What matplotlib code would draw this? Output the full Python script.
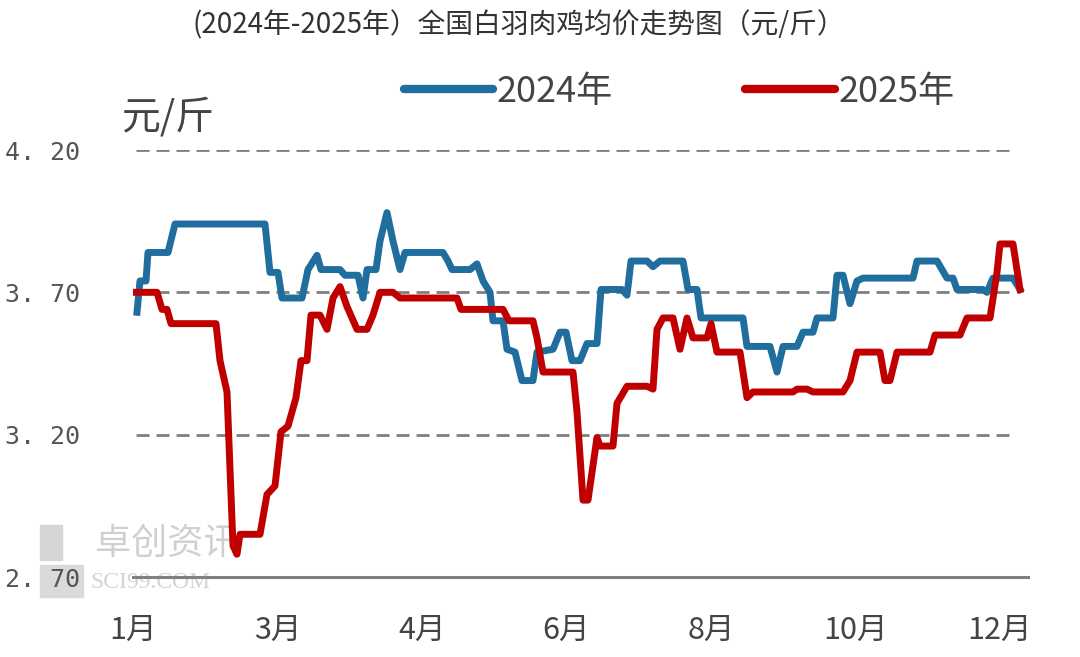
import numpy as np
import matplotlib
matplotlib.use('Agg')
import matplotlib.pyplot as plt
from matplotlib.lines import Line2D
from matplotlib.patches import Rectangle

plt.rcParams['font.family'] = ['Noto Sans CJK SC', 'DejaVu Sans']

# positions along the year (one month label every 144.5 units)
month_labels = ['1月', '3月', '4月', '6月', '8月', '10月', '12月']
month_pos = np.arange(len(month_labels)) * 144.5

pos_2024 = [4, 7, 13, 15, 35, 42, 132, 137, 145, 149,
            169, 175, 184, 188, 207, 212, 225, 230, 234, 243,
            247, 254, 260, 267, 272, 310, 315, 319, 337, 344,
            350, 357, 360, 370, 374, 382, 389, 400, 404, 420,
            427, 433, 439, 447, 454, 464, 468, 489, 494, 498,
            514, 520, 527, 550, 555, 564, 568, 610, 614, 637,
            644, 650, 664, 670, 680, 684, 700, 704, 710, 717,
            724, 730, 780, 784, 804, 814, 820, 824, 850, 854,
            860, 880, 887]
price_2024 = [3.63, 3.74, 3.74, 3.84, 3.84, 3.94, 3.94, 3.77, 3.77, 3.68,
              3.68, 3.78, 3.83, 3.78, 3.78, 3.76, 3.76, 3.68, 3.78, 3.78,
              3.88, 3.98, 3.88, 3.78, 3.84, 3.84, 3.81, 3.78, 3.78, 3.80,
              3.74, 3.70, 3.60, 3.60, 3.50, 3.49, 3.39, 3.39, 3.49, 3.50,
              3.56, 3.56, 3.46, 3.46, 3.52, 3.52, 3.71, 3.71, 3.69, 3.81,
              3.81, 3.79, 3.81, 3.81, 3.71, 3.71, 3.61, 3.61, 3.51, 3.51,
              3.42, 3.51, 3.51, 3.56, 3.56, 3.61, 3.61, 3.76, 3.76, 3.66,
              3.74, 3.75, 3.75, 3.81, 3.81, 3.75, 3.75, 3.71, 3.71, 3.70,
              3.75, 3.75, 3.71]

pos_2025 = [0, 24, 29, 34, 38, 83, 87, 94, 100, 104,
            107, 127, 134, 142, 148, 155, 163, 168, 174, 178,
            187, 194, 200, 207, 214, 224, 234, 240, 247, 260,
            267, 324, 328, 370, 376, 400, 404, 410, 440, 444,
            450, 455, 464, 467, 480, 484, 494, 514, 520, 524,
            530, 540, 547, 554, 560, 574, 578, 584, 607, 614,
            620, 660, 664, 674, 680, 710, 717, 724, 747, 752,
            757, 764, 797, 802, 827, 834, 857, 864, 867, 880,
            887]
price_2025 = [3.70, 3.70, 3.64, 3.64, 3.59, 3.59, 3.46, 3.35, 2.81, 2.78,
              2.85, 2.85, 2.99, 3.02, 3.21, 3.23, 3.33, 3.46, 3.46, 3.62,
              3.62, 3.57, 3.68, 3.72, 3.65, 3.57, 3.57, 3.62, 3.70, 3.70,
              3.68, 3.68, 3.64, 3.64, 3.60, 3.60, 3.54, 3.42, 3.42, 3.28,
              2.97, 2.97, 3.19, 3.16, 3.16, 3.31, 3.37, 3.37, 3.36, 3.57,
              3.61, 3.61, 3.50, 3.61, 3.54, 3.54, 3.59, 3.49, 3.49, 3.33,
              3.35, 3.35, 3.36, 3.36, 3.35, 3.35, 3.39, 3.49, 3.49, 3.39,
              3.39, 3.49, 3.49, 3.55, 3.55, 3.61, 3.61, 3.77, 3.87, 3.87,
              3.71]

y_ticks = [2.70, 3.20, 3.70, 4.20]
y_labels = ['2. 70', '3. 20', '3. 70', '4. 20']

blue = '#1f6e9e'
red = '#c00000'
grid_col = '#808080'

fig = plt.figure(figsize=(10.8, 6.57), dpi=100)

# watermark (behind everything)
fig.patches.append(Rectangle((40 / 1080, 1 - 560 / 657), 22 / 1080, 35 / 657,
                             transform=fig.transFigure, color='#d6d6d6', zorder=-2))
fig.patches.append(Rectangle((40 / 1080, 1 - 597 / 657), 43 / 1080, 32 / 657,
                             transform=fig.transFigure, color='#dadada', zorder=-2))
fig.text(95 / 1080, 1 - 544 / 657, '卓创资讯', fontsize=26, color='#d0d0d0',
         ha='left', va='center', zorder=-1)
fig.text(90 / 1080, 1 - 582 / 657, 'SCI99.COM', fontsize=17, color='#d4d4d4',
         ha='left', va='center', family='Liberation Serif', zorder=-1)

ax = fig.add_axes([133 / 1080, 1 - 577 / 657, (1028 - 133) / 1080, (577 - 150) / 657])
ax.patch.set_alpha(0)

for v in y_ticks[1:]:
    ax.axhline(v, xmin=0.003, xmax=0.985, color=grid_col, lw=2.0,
               linestyle=(0, (4.7, 2.5)), zorder=1)

ax.plot(pos_2024, price_2024, color=blue, lw=5, zorder=3)
ax.plot(pos_2025, price_2025, color=red, lw=5, zorder=4)

ax.set_xlim(0, 895)
ax.set_ylim(2.70, 4.20)
for s in ['top', 'right', 'left']:
    ax.spines[s].set_visible(False)
ax.spines['bottom'].set_color(grid_col)
ax.spines['bottom'].set_linewidth(2.2)

ax.set_xticks(month_pos)
ax.set_xticklabels(month_labels, fontsize=22, color='#444444')
ax.set_yticks(y_ticks)
ax.set_yticklabels(y_labels, fontsize=18, color='#555555', family='DejaVu Sans Mono')
ax.tick_params(axis='x', length=0, pad=27)
ax.tick_params(axis='y', length=0, pad=92)
for lab in ax.get_yticklabels():
    lab.set_horizontalalignment('left')

fig.text(519 / 1080, 1 - 25 / 657, '(2024年-2025年）全国白羽肉鸡均价走势图（元/斤）',
         ha='center', va='center', fontsize=20, color='#333333')
fig.text(121 / 1080, 1 - 117 / 657, '元/斤', ha='left', va='center',
         fontsize=28, color='#444444')

handles = [Line2D([], [], color=blue, lw=6, solid_capstyle='round'),
           Line2D([], [], color=red, lw=6, solid_capstyle='round')]
fig.legend(handles, ['2024年', '2025年'], loc='center', ncol=2,
           bbox_to_anchor=(679 / 1080, 1 - 92 / 657), frameon=False,
           fontsize=26, handlelength=2.47, handletextpad=0.1,
           columnspacing=3.67, labelcolor='#444444')

fig.savefig('out.png', dpi=100)
